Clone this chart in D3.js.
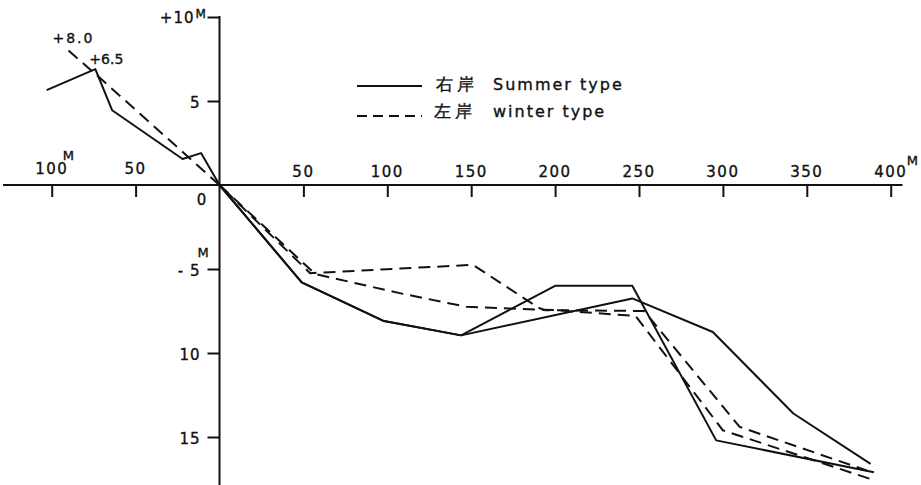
<!DOCTYPE html>
<html>
<head>
<meta charset="utf-8">
<script src="https://cdn.jsdelivr.net/npm/d3@7"></script>
<style>
  html, body { margin: 0; padding: 0; background: #fff; }
  svg { display: block; }
  text { font-family: "DejaVu Sans", sans-serif; fill: #111; stroke: #111; stroke-width: 0.35px; }
</style>
</head>
<body>
<svg id="chart" width="921" height="485"></svg>
<script>
// ---- data (distance in m, elevation in m) ----
const summerLine1 = [[-103, 5.65], [-74, 6.9], [-64, 4.45], [-22, 1.55], [-11, 1.9], [0, 0],
  [49, -5.8], [98, -8.1], [144, -8.95], [200, -6.0], [246, -6.0], [296, -15.2], [390, -17.1]];
const summerLine2 = [[0, 0], [49, -5.8], [98, -8.1], [144, -8.95], [246, -6.75], [294, -8.75],
  [342, -13.6], [388, -16.6]];
const winterLine1 = [[-90, 8.0], [-71, 6.35], [0, 0], [54, -5.25], [151, -4.75], [190, -7.3],
  [194, -7.45], [253, -7.5], [310, -14.4], [386, -17.0]];
const winterLine2 = [[0, 0], [57, -5.3], [108, -6.45], [147, -7.25], [200, -7.45], [248, -7.8],
  [300, -14.6], [391, -17.6]];

const xTickValues = [-100, -50, 50, 100, 150, 200, 250, 300, 350, 400];
const xTickLabels = ["100", "50", "50", "100", "150", "200", "250", "300", "350", "400"];
const yTickValues = [10, 5, -5, -10, -15];
const yTickLabels = ["+10", "5", "- 5", "10", "15"];
const legendItems = [
  { cjk: "右岸", en: "Summer type", dash: null },
  { cjk: "左岸", en: "winter type", dash: "10,6" }
];
const pointNotes = [
  { label: "+8.0", at: [-90, 8.0] },
  { label: "+6.5", at: [-74, 6.9] }
];

// ---- scales ----
const svg = d3.select("#chart");
const x = d3.scaleLinear().domain([-100, 400]).range([51.7, 890.7]);
const y = d3.scaleLinear().domain([0, -15]).range([185, 437]);
const ink = "#111";

// x axis (ticks below, labels above)
const xAxis = d3.axisBottom(x).tickValues(xTickValues).tickSize(12).tickFormat("");
const gx = svg.append("g").attr("transform", `translate(0,${y(0)})`).call(xAxis);
gx.select(".domain").remove();
gx.selectAll(".tick line").attr("stroke", ink).attr("stroke-width", 2);
svg.append("line")
  .attr("x1", x(-129)).attr("x2", x(407))
  .attr("y1", y(0)).attr("y2", y(0))
  .attr("stroke", ink).attr("stroke-width", 2);
svg.append("g").selectAll("text").data(xTickValues).join("text")
  .attr("x", d => x(d)).attr("y", d => d < 0 ? y(0) - 11 : y(0) - 8)
  .attr("text-anchor", "middle").attr("font-size", 15).attr("letter-spacing", 1.5)
  .text((d, i) => xTickLabels[i]);
svg.append("text").attr("x", x(-100) + 11).attr("y", y(0) - 25).attr("font-size", 13).text("M");
svg.append("text").attr("x", x(400) + 16).attr("y", y(0) - 20).attr("font-size", 13).text("M");
svg.append("text").attr("x", x(0) - 18).attr("y", y(0) + 20).attr("text-anchor", "middle")
  .attr("font-size", 15).text("0");

// y axis (ticks to the left)
const yAxis = d3.axisLeft(y).tickValues(yTickValues).tickSize(12).tickFormat("");
const gy = svg.append("g").attr("transform", `translate(${x(0)},0)`).call(yAxis);
gy.select(".domain").remove();
gy.selectAll(".tick line").attr("stroke", ink).attr("stroke-width", 2);
svg.append("line")
  .attr("x1", x(0)).attr("x2", x(0))
  .attr("y1", y(10) - 1).attr("y2", y(-18))
  .attr("stroke", ink).attr("stroke-width", 2);
svg.append("g").selectAll("text").data(yTickValues).join("text")
  .attr("x", (d, i) => i === 0 ? x(0) - 25 : x(0) - 19)
  .attr("y", d => d === 10 ? y(d) + 6 : y(d) + 7)
  .attr("text-anchor", "end").attr("font-size", 15).attr("letter-spacing", 1)
  .text((d, i) => yTickLabels[i]);
svg.append("text").attr("x", x(0) - 24).attr("y", y(10) + 1).attr("font-size", 12).text("M");
svg.append("text").attr("x", x(0) - 22).attr("y", y(-5) - 12).attr("font-size", 13).text("M");

// lines
const line = d3.line().x(d => x(d[0])).y(d => y(d[1]));
const series = [
  { data: summerLine1, dash: null },
  { data: summerLine2, dash: null },
  { data: winterLine1, dash: "12,7" },
  { data: winterLine2, dash: "12,7" }
];
svg.append("g").selectAll("path").data(series).join("path")
  .attr("d", d => line(d.data))
  .attr("fill", "none").attr("stroke", ink).attr("stroke-width", 2)
  .attr("stroke-linejoin", "round")
  .attr("stroke-dasharray", d => d.dash);

// point notes
svg.append("text").attr("x", x(pointNotes[0].at[0]) - 16).attr("y", y(pointNotes[0].at[1]) - 8)
  .attr("font-size", 14).attr("letter-spacing", 2).text(pointNotes[0].label);
svg.append("text").attr("x", x(pointNotes[1].at[0]) - 6).attr("y", y(pointNotes[1].at[1]) - 5)
  .attr("font-size", 14).text(pointNotes[1].label);

// legend
const lg = svg.append("g").selectAll("g").data(legendItems).join("g")
  .attr("transform", (d, i) => `translate(357,${i === 0 ? 86 : 116})`);
lg.append("line").attr("x1", 0).attr("x2", 65).attr("y1", 0).attr("y2", 0)
  .attr("stroke", ink).attr("stroke-width", 1.8)
  .attr("stroke-dasharray", d => d.dash);
lg.append("text").attr("x", (d, i) => i === 0 ? 79 : 77).attr("y", (d, i) => i === 0 ? 4 : 1)
  .attr("font-family", "'Noto Sans CJK JP', sans-serif").attr("font-size", 17)
  .attr("letter-spacing", 4).text(d => d.cjk);
lg.append("text").attr("x", 136).attr("y", (d, i) => i === 0 ? 4 : 1)
  .attr("font-size", 16).attr("letter-spacing", 2).text(d => d.en);
</script>
</body>
</html>
